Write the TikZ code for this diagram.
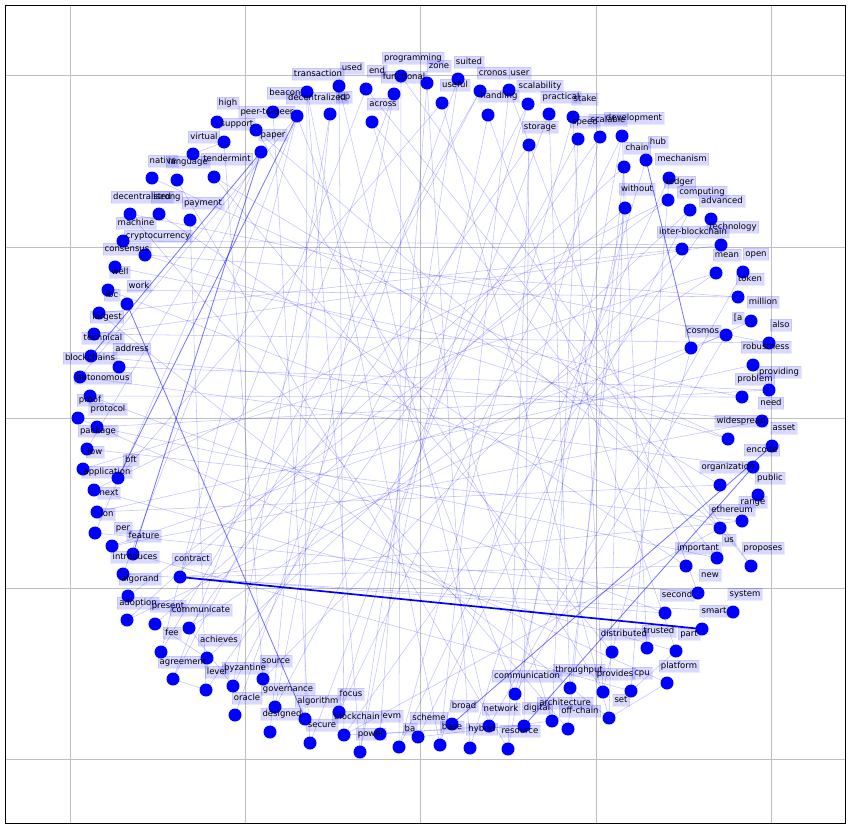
\documentclass[tikz,border=0pt]{standalone}
\usepackage{fontspec}
\setmainfont{DejaVu Sans}
\begin{document}
\begin{tikzpicture}[x=1pt,y=-1pt,
  dot/.style={circle,fill=blue,inner sep=0pt,minimum size=13pt},
  edge/.style={draw=blue,draw opacity=0.24,line width=0.55pt},
  medge/.style={draw=blue,draw opacity=0.55,line width=0.8pt},
  sedge/.style={draw=blue,line width=1.7pt},
  lab/.style={fill=blue,fill opacity=0.15,text opacity=1,draw=blue,draw opacity=0.08,
    inner xsep=2pt,inner ysep=1.7pt,text height=6.3pt,text depth=1.9pt,
    font=\fontsize{8.5}{10}\selectfont},
  gridline/.style={draw=black!25,line width=0.6pt}]
\useasboundingbox (0,0) rectangle (850,828);
\fill[white] (0,0) rectangle (850,828);
\foreach \gx in {70,245,420,596,771} \draw[gridline] (\gx,5) -- (\gx,823);
\foreach \gy in {75,247,418,588,759} \draw[gridline] (5,\gy) -- (845,\gy);
\draw[black,line width=0.8pt] (5,5) rectangle (845,823);
% node positions
\foreach \i/\x/\y in {1/401/76,2/366/89,3/339/86,4/307/92,5/297/116,6/273/112,7/256/130,8/261/152,
  9/217/122,10/224/142,11/193/154,12/177/180,13/152/178,14/214/177,15/159/214,16/130/214,
  17/190/220,18/123/241,19/145/255,20/115/267,21/108/290,22/127/304,23/99/313,24/94/334,
  25/91/356,26/119/367,27/80/377,28/90/396,29/78/418,30/97/427,31/87/449,32/83/469,
  33/118/478,34/94/490,35/97/512,36/95/533,37/112/546,38/133/554,39/123/574,40/180/577,
  41/128/596,42/127/620,43/155/624,44/189/628,45/161/652,46/207/658,47/173/679,48/206/690,
  49/233/686,50/263/679,51/235/715,52/275/707,53/305/719,54/270/732,55/310/743,56/339/712,
  57/344/735,58/360/752,59/380/734,60/399/747,61/418/737,62/440/745,63/452/724,64/470/748,
  65/489/726,66/508/749,67/524/726,68/515/694,69/552/721,70/568/729,71/570/688,72/609/718,
  73/603/692,74/631/691,75/667/683,76/612/652,77/647/648,78/676/651,79/702/629,80/665/613,
  81/733/612,82/698/593,83/686/566,84/717/558,85/751/566,86/720/528,87/742/521,88/758/495,
  89/720/485,90/753/467,91/772/446,92/728/439,93/762/421,94/742/397,95/769/390,96/753/365,
  97/769/343,98/726/335,99/691/348,100/751/321,101/738/297,102/716/273,103/743/272,104/721/245,
  105/682/249,106/711/219,107/690/210,108/668/200,109/669/178,110/625/208,111/646/160,112/624/167,
  113/622/136,114/600/137,115/578/139,116/573/117,117/549/114,118/529/145,119/528/104,120/509/90,
  121/480/91,122/488/115,123/458/79,124/442/103,125/427/83,126/394/94,127/372/122,128/330/114}
  \coordinate (c\i) at (\x,\y);
% edges
\foreach \a/\b in {1/60,1/85,2/40,3/57,4/62,4/53,5/45,5/68,6/55,7/73,8/36,10/50,12/66,
  13/92,14/76,15/83,16/70,17/48,18/104,19/101,20/94,21/86,23/72,24/97,26/95,27/90,28/80,29/75,
  30/84,31/87,32/102,33/124,34/78,35/89,36/82,37/93,38/74,39/81,40/80,40/83,40/87,41/108,42/112,
  43/110,44/118,45/121,47/126,48/114,49/119,50/105,51/123,52/115,54/128,55/117,56/113,
  57/106,58/122,59/125,60/109,61/107,62/120,64/111,65/103,66/118,68/98,69/127,70/112,71/110,
  72/124,73/116,74/109,76/99,77/113,78/122,82/120,84/127,85/2,86/7,89/14,92/19,93/25,
  94/28,95/30,96/35,97/16,98/37,100/42,101/21,102/44,104/24,105/23,107/46,108/34,
  110/68,113/66,114/62,116/60,119/56,121/47,123/58,125/64,126/52,128/49,117/71,118/67,115/69,
  112/72,5/39,5/27,8/31,4/58,3/65,57/86,47/48,57/67,59/65,61/69,72/75,73/76,74/78,44/49,43/46,10/11}
  \draw[edge] (c\a) -- (c\b);
\foreach \a/\b in {8/25,22/53,111/99,91/63,90/67,5/33,8/38}
  \draw[medge] (c\a) -- (c\b);
\draw[sedge] (c40) -- (c79);
% dots
\foreach \i in {1,...,128} \node[dot] (n\i) at (c\i) {};
% labels
\foreach \x/\y/\t [count=\k] in {228/103/high,267/112/peer-to-peer,285/93/beacon,237/124/support,
  273/135/paper,204/137/virtual,163/161/native,188/162/language,227/159/tendermint,
  142/197/decentralised,167/197/strong,203/203/payment,136/223/machine,158/236/cryptocurrency,
  127/249/consensus,120/272/well,139/286/work,112/295/ibc,107/317/largest,103/338/technical,
  132/349/address,90/358/blockchains,103/378/autonomous,90/400/proof,108/409/protocol,
  98/431/package,95/452/low,131/460/bft,107/472/application,109/493/next,107/514/ion,
  123/528/per,144/536/feature,135/557/introduces,192/559/contract,140/579/algorand,
  138/603/adoption,168/606/present,201/610/communicate,172/633/fee,219/640/achieves,
  183/662/agreement,217/672/level,245/668/byzantine,276/661/source,247/698/oracle,
  288/689/governance,318/701/algorithm,351/694/focus,282/714/designed,322/725/secure,
  357/717/blockchain,392/716/evm,371/734/power,410/729/ba,429/718/scheme,464/706/broad,
  452/727/base,501/709/network,482/729/hybrid,520/731/resource,537/708/digital,
  527/676/communication,565/703/architecture,580/711/off-chain,579/670/throughput,
  615/674/provides,642/673/cpu,621/700/set,624/634/distributed,659/631/trusted,689/634/part,
  679/666/platform,677/595/second,745/594/system,714/611/smart,710/575/new,698/548/important,
  729/540/us,763/548/proposes,732/510/ethereum,753/502/range,770/478/public,728/467/organization,
  762/450/encode,784/428/asset,741/421/widespread,771/403/need,755/379/problem,779/372/providing,
  766/347/robustness,703/331/cosmos,781/325/also,738/318/{[a},763/302/million,750/279/token,
  756/254/open,727/255/mean,733/227/technology,693/232/inter-blockchain,722/201/advanced,
  702/192/computing,680/182/ledger,637/189/without,682/159/mechanism,637/148/chain,658/142/hub,
  634/118/development,608/120/scalable,585/122/speed,540/127/storage,585/99/stake,
  561/97/practical,540/86/scalability,520/73/user,493/73/cronos,499/96/handling,469/62/suited,
  439/66/zone,455/85/useful,413/58/programming,404/77/functional,377/71/end,352/68/used,
  383/104/across,344/97/icp,318/74/transaction,317/98/decentralized}
  \node[lab] (l\k) at (\x,\y) {\t};
\end{tikzpicture}
\end{document}
